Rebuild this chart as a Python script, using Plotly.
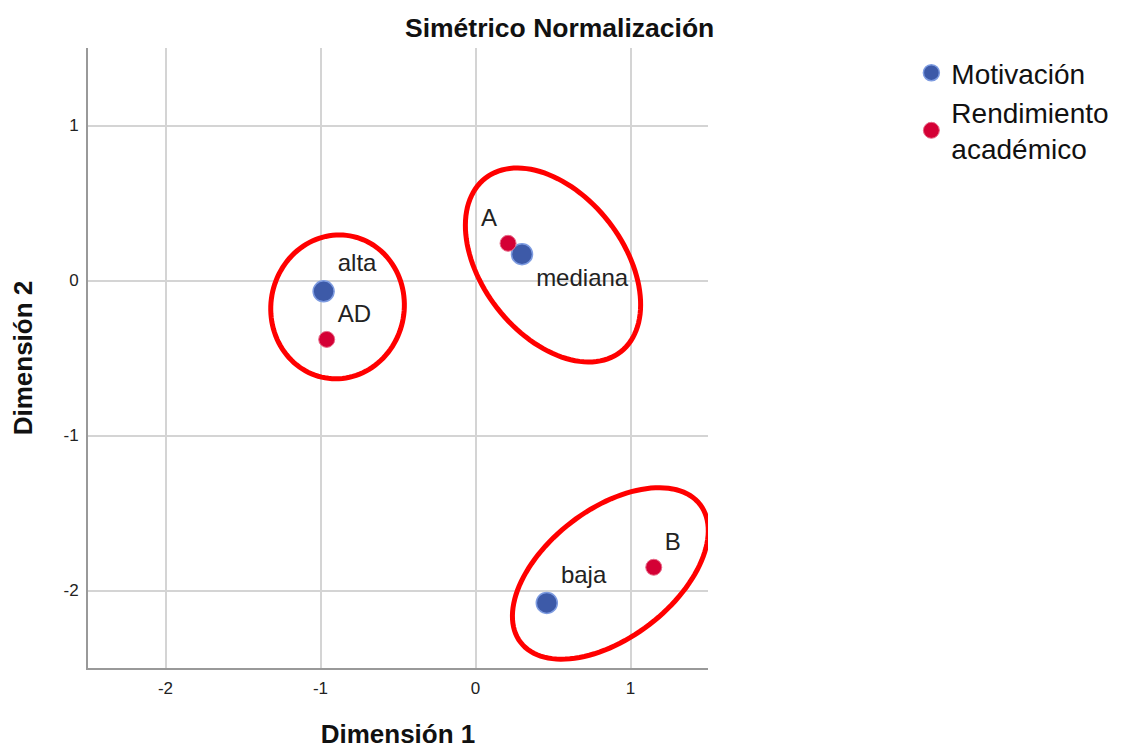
import numpy as np
import plotly.graph_objects as go

# category points (dimension 1, dimension 2)
motiv_labels = ["alta", "mediana", "baja"]
motiv_x = [-0.98, 0.30, 0.46]
motiv_y = [-0.07, 0.17, -2.08]

rend_labels = ["AD", "A", "B"]
rend_x = [-0.96, 0.21, 1.15]
rend_y = [-0.38, 0.24, -1.85]

tick_vals = [-2, -1, 0, 1]
tick_text = ["-2", "-1", "0", "1"]

# hand-drawn red ellipses: center x, center y, semi-axis a, semi-axis b, angle (deg)
ellipses = [
    (-0.89, -0.17, 0.465, 0.43, 80),
    (0.50, 0.10, 0.71, 0.455, -52),
    (0.87, -1.89, 0.73, 0.415, 37.5),
]

FONT = "Arial, Liberation Sans, sans-serif"


def ellipse_path(cx, cy, a, b, ang):
    t = np.linspace(0, 2 * np.pi, 121)
    th = np.radians(ang)
    xs = cx + a * np.cos(t) * np.cos(th) - b * np.sin(t) * np.sin(th)
    ys = cy + a * np.cos(t) * np.sin(th) + b * np.sin(t) * np.cos(th)
    pts = " L ".join(f"{x:.4f},{y:.4f}" for x, y in zip(xs, ys))
    return "M " + pts + " Z"


fig = go.Figure()
fig.add_trace(go.Scatter(
    x=motiv_x, y=motiv_y, text=motiv_labels, name="Motivación",
    mode="markers+text",
    textposition=["top right", "bottom right", "top right"],
    textfont=dict(size=24, color="#222222", family=FONT),
    marker=dict(size=21, color="#3d5aa8", line=dict(color="#7d9be0", width=1.5)),
))
fig.add_trace(go.Scatter(
    x=rend_x, y=rend_y, text=rend_labels, name="Rendimiento<br>académico",
    mode="markers+text",
    textposition=["top right", "top left", "top right"],
    textfont=dict(size=24, color="#222222", family=FONT),
    marker=dict(size=16, color="#d40035", line=dict(color="#e86a88", width=1)),
))

for e in ellipses:
    fig.add_shape(type="path", path=ellipse_path(*e), xref="x", yref="y",
                  line=dict(color="#ff0000", width=5))

fig.add_annotation(text="<b>Simétrico Normalización</b>", xref="paper", yref="paper",
                   x=0.761, y=1.032, showarrow=False, xanchor="center", yanchor="middle",
                   font=dict(size=26.5, color="#111111", family=FONT))

fig.update_layout(
    width=1132, height=741,
    margin=dict(l=80, r=432, t=40, b=81),
    plot_bgcolor="white", paper_bgcolor="white",
    font=dict(family=FONT, color="#333333"),
    legend=dict(x=1.328, y=1.0, xanchor="left", yanchor="top",
                font=dict(size=28, color="#111111", family=FONT),
                itemsizing="trace", tracegroupgap=0),
    xaxis=dict(range=[-2.5, 1.5], tickvals=tick_vals, ticktext=tick_text,
               showgrid=True, gridcolor="#d4d4d4", gridwidth=1.5,
               zeroline=False, showline=True, linecolor="#999999", linewidth=2,
               ticks="", tickfont=dict(size=17, color="#222222"), automargin=False,
               ticklabelstandoff=4,
               title=dict(text="<b>Dimensión 1</b>", standoff=38,
                          font=dict(size=26, color="#111111"))),
    yaxis=dict(range=[-2.5, 1.5], tickvals=tick_vals, ticktext=tick_text,
               showgrid=True, gridcolor="#d4d4d4", gridwidth=1.5,
               zeroline=False, showline=True, linecolor="#999999", linewidth=2,
               ticks="", tickfont=dict(size=17, color="#222222"), automargin=False,
               ticklabelstandoff=4,
               title=dict(text="<b>Dimensión 2</b>", standoff=24,
                          font=dict(size=26, color="#111111"))),
)

fig.write_html("out.html")
